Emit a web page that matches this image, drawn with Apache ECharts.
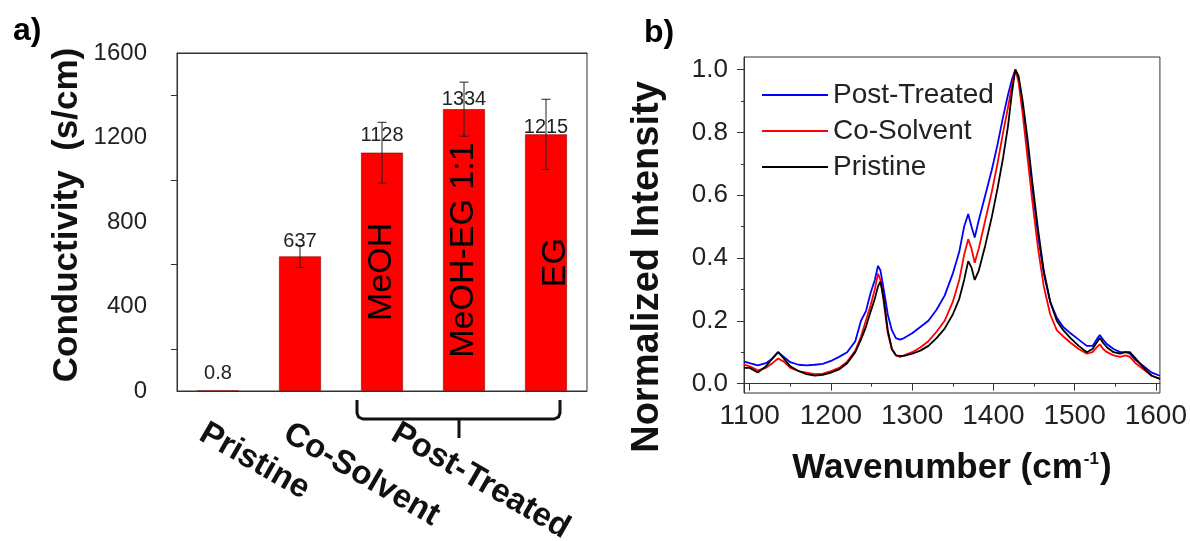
<!DOCTYPE html>
<html><head><meta charset="utf-8">
<script src="https://cdn.jsdelivr.net/npm/echarts@6/dist/echarts.min.js"></script>
<style>html,body{margin:0;padding:0;background:#fff}#c{width:1190px;height:541px}</style>
</head><body><div id="c"></div>
<script>
// ---------- Panel a data ----------
const categories = ['Pristine', 'Co-Solvent', 'MeOH', 'MeOH-EG 1:1', 'EG'];
const conductivity = [0.8, 637, 1128, 1334, 1215];
const conductivityErr = [0, 52, 144, 128, 166];
const barInnerLabels = ['', '', 'MeOH', 'MeOH-EG 1:1', 'EG'];
const groupLabels = ['Pristine', 'Co-Solvent', 'Post-Treated'];
const groupLabelAnchors = ['Pristine', 'Co-Solvent', 'MeOH'];

// ---------- Panel b data ----------
const wavenumber = [1093,1100,1110,1120,1128,1135,1142,1150,1160,1170,1180,1190,1200,1210,1220,1230,1237,1243,1249,1254,1258,1261,1265,1270,1275,1280,1285,1290,1300,1310,1320,1330,1340,1350,1358,1364,1369,1373,1377,1382,1390,1398,1405,1412,1418,1423,1427,1431,1436,1442,1448,1455,1462,1470,1478,1486,1495,1505,1515,1522,1527,1531,1535,1540,1548,1556,1563,1568,1575,1585,1595,1605];
const postTreated = [.07,.065,.058,.065,.08,.10,.085,.068,.06,.058,.06,.063,.072,.085,.10,.135,.20,.23,.29,.33,.375,.36,.30,.22,.17,.145,.14,.145,.16,.18,.20,.235,.28,.35,.42,.50,.54,.50,.465,.52,.60,.68,.76,.85,.92,.97,1.0,.97,.88,.76,.62,.47,.35,.26,.21,.18,.16,.14,.12,.12,.14,.155,.14,.125,.11,.10,.10,.095,.075,.055,.035,.025];
const coSolvent = [.06,.055,.042,.05,.065,.08,.07,.05,.04,.035,.03,.032,.04,.05,.07,.105,.15,.20,.25,.30,.35,.33,.26,.16,.11,.09,.085,.09,.10,.115,.135,.165,.20,.26,.33,.41,.46,.43,.385,.43,.52,.61,.70,.80,.88,.95,1.0,.96,.86,.72,.58,.43,.31,.22,.17,.15,.13,.11,.095,.10,.115,.125,.11,.10,.09,.085,.09,.085,.065,.045,.025,.015];
const pristine = [.05,.05,.035,.055,.08,.10,.08,.055,.04,.03,.025,.028,.035,.045,.065,.10,.14,.18,.23,.27,.31,.325,.27,.17,.11,.09,.088,.088,.095,.105,.12,.145,.175,.22,.27,.33,.39,.37,.33,.36,.44,.53,.62,.72,.82,.93,1.0,.98,.90,.78,.64,.49,.36,.26,.20,.17,.145,.12,.10,.11,.13,.145,.13,.115,.10,.095,.10,.10,.08,.05,.025,.015];
const intensityTicks = [0, 0.2, 0.4, 0.6, 0.8, 1.0];
const wavenumberTicks = [1100, 1200, 1300, 1400, 1500, 1600];
const spectraNames = ['Post-Treated', 'Co-Solvent', 'Pristine'];

const FONT = '"Liberation Sans", Arial, sans-serif';
const AX = '#333';
const chart = echarts.init(document.getElementById('c'), null, {renderer: 'canvas'});

// label placement styles (not data)
const topLabelDistance = [7, 5, 7, 0, -3];
const innerLabelOffset = [[0, 0], [0, 0], [0, 0], [0, 0], [0, 10]];

const option = {
  animation: false,
  backgroundColor: '#fff',
  textStyle: {fontFamily: FONT},
  title: [
    {text: 'a)', left: 8, top: 10, textStyle: {fontSize: 32, fontWeight: 'bold', color: '#000', fontFamily: FONT}},
    {text: 'b)', left: 639, top: 12, textStyle: {fontSize: 32, fontWeight: 'bold', color: '#000', fontFamily: FONT}}
  ],
  legend: {
    data: spectraNames, orient: 'vertical', left: 757, top: 76,
    itemWidth: 66, itemHeight: 12, itemGap: 8,
    textStyle: {fontSize: 28, color: '#222', fontFamily: FONT},
    icon: 'path://M0,5 L66,5 L66,7 L0,7 Z'
  },
  grid: [
    {left: 177, top: 53, width: 410, height: 338, show: true, borderColor: AX, borderWidth: 1, containLabel: false},
    {left: 744, top: 57, width: 417, height: 336, show: true, borderColor: AX, borderWidth: 1, containLabel: false}
  ],
  xAxis: [
    {gridIndex: 0, type: 'category', data: categories, position: 'bottom',
     axisLine: {lineStyle: {color: AX, width: 1}},
     axisTick: {alignWithLabel: true, length: 14, lineStyle: {color: AX}},
     axisLabel: {show: false}, splitLine: {show: false}},
    {gridIndex: 0, type: 'category', data: categories, position: 'bottom',
     axisLine: {show: false},
     axisTick: {alignWithLabel: false, length: 6, lineStyle: {color: AX}},
     axisLabel: {show: false}, splitLine: {show: false}},
    {gridIndex: 0, type: 'category', data: categories, position: 'top',
     axisLine: {lineStyle: {color: AX}},
     axisTick: {alignWithLabel: true, inside: true, length: 8, lineStyle: {color: AX}},
     axisLabel: {show: false}, splitLine: {show: false}},
    {gridIndex: 1, type: 'value', min: 1093, max: 1605, position: 'bottom',
     name: '{a|Wavenumber (cm}{s|-1}{a|)}', nameLocation: 'middle', nameGap: 58,
     nameTextStyle: {rich: {
       a: {fontSize: 35, fontWeight: 'bold', color: '#111', fontFamily: FONT},
       s: {fontSize: 17, fontWeight: 'bold', color: '#111', fontFamily: FONT, verticalAlign: 'top', padding: [0, 1, 14, 1]}
     }},
     axisLine: {lineStyle: {color: AX}},
     axisTick: {length: 7, lineStyle: {color: AX}, customValues: wavenumberTicks},
     minorTick: {show: true, splitNumber: 2, length: 3, lineStyle: {color: AX}},
     axisLabel: {fontSize: 28, color: '#222', margin: 9, customValues: wavenumberTicks, fontFamily: FONT,
       formatter: v => String(v)},
     splitLine: {show: false}}
  ],
  yAxis: [
    {gridIndex: 0, type: 'value', min: 0, max: 1600, interval: 400,
     name: 'Conductivity  (s/cm)', nameLocation: 'middle', nameGap: 92,
     nameTextStyle: {fontSize: 35, fontWeight: 'bold', color: '#111', fontFamily: FONT, padding: [0, 0, 0, 14]},
     axisLine: {show: true, lineStyle: {color: AX}},
     axisTick: {length: 14, lineStyle: {color: AX}},
     minorTick: {show: true, splitNumber: 2, length: 6, lineStyle: {color: AX}},
     axisLabel: {fontSize: 24, color: '#222', margin: 30, fontFamily: FONT, formatter: v => String(v)},
     splitLine: {show: false}},
    {gridIndex: 1, type: 'value', min: -0.03, max: 1.04,
     name: 'Normalized Intensity', nameLocation: 'middle', nameGap: 77,
     nameTextStyle: {fontSize: 38, fontWeight: 'bold', color: '#111', fontFamily: FONT, padding: [0, 84, 0, 0]},
     axisLine: {show: true, lineStyle: {color: AX}},
     axisTick: {length: 7, lineStyle: {color: AX}, customValues: intensityTicks},
     minorTick: {show: true, splitNumber: 2, length: 3, lineStyle: {color: AX}},
     axisLabel: {fontSize: 26, color: '#222', margin: 16, customValues: intensityTicks, fontFamily: FONT,
       formatter: v => v.toFixed(1)},
     splitLine: {show: false}}
  ],
  series: [
    {name: 'Conductivity', type: 'bar', xAxisIndex: 0, yAxisIndex: 0, barWidth: '51%',
     data: conductivity.map((v, i) => ({value: v, label: {distance: topLabelDistance[i]}})),
     itemStyle: {color: '#ff0000', borderColor: '#8a0000', borderWidth: 0.6},
     label: {show: true, position: 'top', fontSize: 20, color: '#222', fontFamily: FONT,
       formatter: p => String(conductivity[p.dataIndex])}},
    {name: 'Inner', type: 'bar', xAxisIndex: 0, yAxisIndex: 0, barWidth: '51%', barGap: '-100%',
     data: conductivity.map((v, i) => ({value: v, label: {offset: innerLabelOffset[i]}})),
     itemStyle: {color: 'rgba(0,0,0,0)', borderWidth: 0}, silent: true, z: 3,
     label: {show: true, position: 'inside', rotate: 90, fontSize: 34, color: '#000', fontFamily: FONT,
       formatter: p => barInnerLabels[p.dataIndex]}},
    {name: 'Error', type: 'custom', xAxisIndex: 0, yAxisIndex: 0, z: 10,
     data: categories.map((c, i) => [i, conductivity[i], conductivityErr[i]]),
     encode: {x: 0, y: 1},
     renderItem: (params, api) => {
       const e = api.value(2);
       if (!e) return null;
       const i = api.value(0), v = api.value(1);
       const x = api.coord([i, v])[0];
       const t = api.coord([i, v + e])[1];
       const b = api.coord([i, v - e])[1];
       const w = 4.5, st = {stroke: '#222', lineWidth: 1};
       return {type: 'group', children: [
         {type: 'line', shape: {x1: x, y1: t, x2: x, y2: b}, style: st},
         {type: 'line', shape: {x1: x - w, y1: t, x2: x + w, y2: t}, style: st},
         {type: 'line', shape: {x1: x - w, y1: b, x2: x + w, y2: b}, style: st}
       ]};
     }},
    {name: 'Post-Treated', type: 'line', xAxisIndex: 3, yAxisIndex: 1, showSymbol: false, symbol: 'none',
     data: wavenumber.map((w, i) => [w, postTreated[i]]), color: '#0000ff', lineStyle: {color: '#0000ff', width: 1.8}},
    {name: 'Co-Solvent', type: 'line', xAxisIndex: 3, yAxisIndex: 1, showSymbol: false, symbol: 'none',
     data: wavenumber.map((w, i) => [w, coSolvent[i]]), color: '#ff0000', lineStyle: {color: '#ff0000', width: 1.8}},
    {name: 'Pristine', type: 'line', xAxisIndex: 3, yAxisIndex: 1, showSymbol: false, symbol: 'none',
     data: wavenumber.map((w, i) => [w, pristine[i]]), color: '#000000', lineStyle: {color: '#000000', width: 1.8}}
  ]
};
chart.setOption(option);

// ---------- rotated category labels and brace, positioned from the axis scale ----------
const px = c => chart.convertToPixel({xAxisIndex: 0}, c);
const axisY = chart.convertToPixel({yAxisIndex: 0}, 0);
const labelShift = [-16, -14, 12];
const graphics = groupLabels.map((t, i) => ({
  type: 'text', x: px(groupLabelAnchors[i]) + labelShift[i], y: axisY + 40, rotation: -Math.PI / 6,
  style: {text: t, font: 'bold 33px ' + FONT, fill: '#111', align: 'left', verticalAlign: 'middle'}
}));
const xl = px('MeOH') - 25, xr = px('EG') + 14, xc = px('MeOH-EG 1:1') - 5;
const yt = axisY + 9, yh = axisY + 28, yb = axisY + 47;
graphics.push({
  type: 'polyline',
  shape: {points: [[xl, yt], [xl, yh - 6], [xl + 1.5, yh - 2], [xl + 6, yh], [xr - 6, yh], [xr - 1.5, yh - 2], [xr, yh - 6], [xr, yt]]},
  style: {stroke: '#111', lineWidth: 3, fill: null}
});
graphics.push({
  type: 'line', shape: {x1: xc, y1: yh, x2: xc, y2: yb},
  style: {stroke: '#111', lineWidth: 3}
});
chart.setOption({graphic: graphics});
</script>
</body></html>
